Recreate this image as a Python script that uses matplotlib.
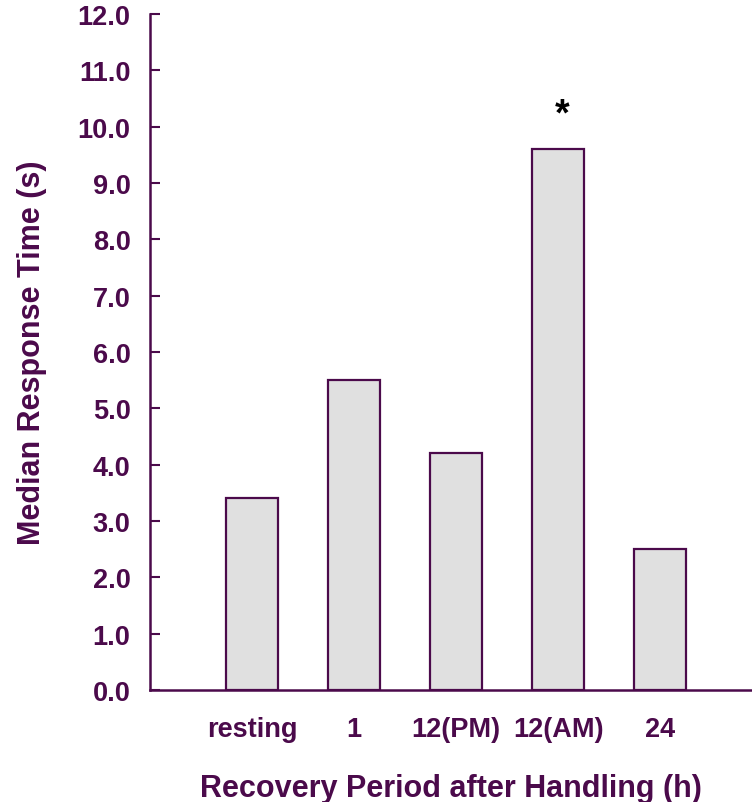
import matplotlib
matplotlib.use("Agg")
import matplotlib.pyplot as plt
import numpy as np

AXIS_COLOR = "#4B0A4B"
BAR_COLOR = "#E0E0E0"

categories = ["resting", "1", "12(PM)", "12(AM)", "24"]
median_times = [3.4, 5.5, 4.2, 9.6, 2.5]
significant = [False, False, False, True, False]

plt.rcParams["font.family"] = ["Liberation Sans", "DejaVu Sans"]
plt.rcParams["font.weight"] = "bold"

fig = plt.figure(figsize=(7.52, 8.03), dpi=100)
ax = fig.add_axes([0.1995, 0.1395, 0.8005, 0.8418])

x = np.arange(1, len(categories) + 1)
ax.bar(x, median_times, width=0.51, color=BAR_COLOR,
       edgecolor=AXIS_COLOR, linewidth=1.6, zorder=2)

for xi, v, sig in zip(x, median_times, significant):
    if sig:
        ax.text(xi + 0.04, v + 0.62, "*", ha="center", va="center",
                fontsize=27, color="black", fontweight="bold")

ax.set_xlim(0, 5.9)
ax.set_ylim(0, 12)
ax.set_yticks(np.arange(0, 12.1, 1.0))
ax.set_yticklabels([f"{t:.1f}" for t in np.arange(0, 12.1, 1.0)])
ax.set_xticks(x)
ax.set_xticklabels(categories)

for side in ("top", "right"):
    ax.spines[side].set_visible(False)
for side in ("left", "bottom"):
    ax.spines[side].set_color(AXIS_COLOR)
    ax.spines[side].set_linewidth(1.8)

ax.tick_params(axis="y", direction="in", length=7, width=1.5,
               color=AXIS_COLOR, labelcolor=AXIS_COLOR, labelsize=19.5, pad=14)
ax.tick_params(axis="x", length=0, labelcolor=AXIS_COLOR, labelsize=19.5, pad=19)

ax.set_xlabel("Recovery Period after Handling (h)", fontsize=22,
              color=AXIS_COLOR, fontweight="bold", labelpad=22)
ax.set_ylabel("Median Response Time (s)", fontsize=22,
              color=AXIS_COLOR, fontweight="bold", labelpad=22)

fig.savefig("out.png", dpi=100)
plt.close(fig)
